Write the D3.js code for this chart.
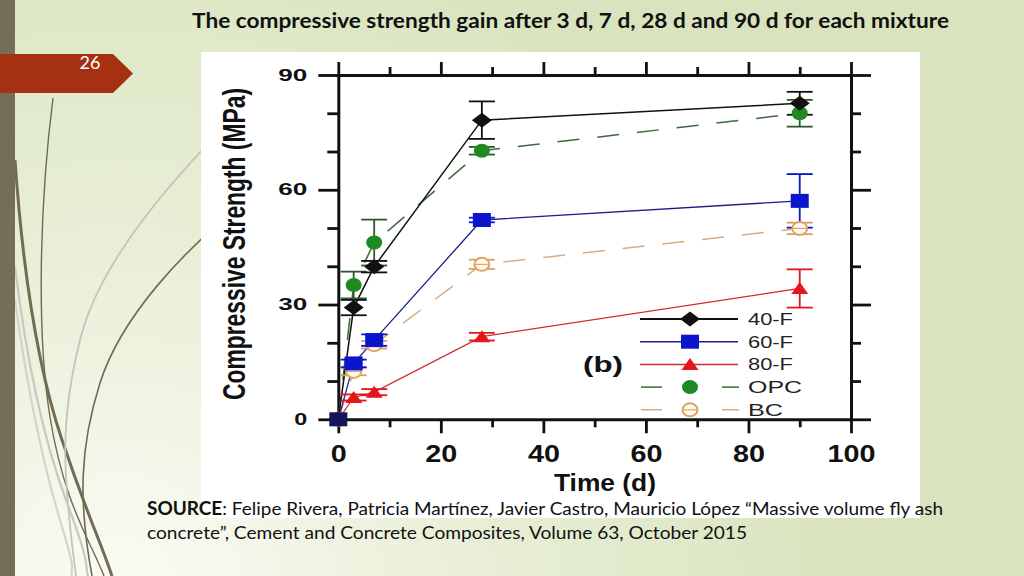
<!DOCTYPE html>
<html><head><meta charset="utf-8">
<script src="https://cdn.jsdelivr.net/npm/d3@7"></script>
<style>html,body{margin:0;padding:0;overflow:hidden;background:#fff}</style>
</head><body><svg id="s" width="1024" height="576"></svg>
<script>
// ---------- data ----------
const days = [0, 3, 7, 28, 90];
const seriesNames = ["OPC", "BC", "80-F", "40-F", "60-F"];
const f40 = [0, 29.2, 39.9, 78.2, 82.6];
const f40Err = [0, 2, 1.5, 4.9, 3];
const f60 = [0, 14.6, 20.7, 52.1, 57.1];
const f60Err = [0, 1, 1.5, 0.6, 7];
const f80 = [0, 5.7, 7.1, 21.6, 34.2];
const f80Err = [0, 0.8, 0.8, 1, 5];
const opc = [0, 35.1, 46.2, 70.2, 80.0];
const opcErr = [0, 3.5, 6, 1, 3.5];
const bc = [0, 12.5, 19.5, 40.5, 49.9];
const bcErr = [0, 1, 1, 1.2, 1.5];
const legendLabels = ["40-F", "60-F", "80-F", "OPC", "BC"];
const xMajorTicks = [0, 20, 40, 60, 80, 100];
const xMinorTicks = [10, 30, 50, 70, 90];
const yMajorTicks = [0, 30, 60, 90];
const yMinorTicks = [10, 20, 40, 50, 70, 80];

const titleText = "The compressive strength gain after 3 d, 7 d, 28 d and 90 d for each mixture";
const slideNo = "26";

// ---------- styles ----------
const style = {
  "40-F": {color: "#111111", line: "#111111", width: 1.5, dash: null, marker: "diamond"},
  "60-F": {color: "#0b16cc", line: "#1e1e8a", width: 1.3, dash: null, marker: "square"},
  "80-F": {color: "#e3161b", line: "#d42a2a", width: 1.2, dash: null, marker: "triangle"},
  "OPC":  {color: "#1f8a24", line: "#3d6a3d", width: 1.5, dash: "22,18", marker: "circle"},
  "BC":   {color: "#e0a463", line: "#d9ab7e", width: 1.5, dash: "22,18", marker: "open"}
};
const valuesOf = {"40-F": [f40, f40Err], "60-F": [f60, f60Err], "80-F": [f80, f80Err], "OPC": [opc, opcErr], "BC": [bc, bcErr]};

const svg = d3.select("#s");
const defs = svg.append("defs");
const rg = defs.append("radialGradient").attr("id", "bg").attr("gradientUnits", "userSpaceOnUse")
  .attr("cx", 120).attr("cy", 600).attr("r", 720);
rg.append("stop").attr("offset", 0).attr("stop-color", "#fbfcf5");
rg.append("stop").attr("offset", 0.45).attr("stop-color", "#eaf0d9");
rg.append("stop").attr("offset", 1).attr("stop-color", "#d9e4be");
svg.append("rect").attr("width", 1024).attr("height", 576).attr("fill", "url(#bg)");

// decorative curves
const curves = [
  {d: "M53,98 C40,200 36,330 50,417 S90,540 104,576", c: "#6f6a52", w: 1.4},
  {d: "M15,160 C22,260 35,360 62,440 S100,540 112,576", c: "#736c55", w: 3},
  {d: "M260,90 C170,180 100,260 80,340 S62,470 76,576", c: "#c4c4bb", w: 1.8},
  {d: "M260,190 C180,250 120,320 100,383 S78,500 92,576", c: "#6e6a55", w: 1.6},
  {d: "M15,267 C24,340 40,430 66,500 S84,560 88,576", c: "#c9c9c0", w: 2.2},
  {d: "M15,300 C26,380 42,460 60,520 S70,560 72,576", c: "#d2d2ca", w: 2}
];
svg.selectAll("path.deco").data(curves).join("path").attr("class", "deco")
  .attr("d", d => d.d).attr("fill", "none").attr("stroke", d => d.c).attr("stroke-width", d => d.w);

// left stripe
svg.append("rect").attr("x", 0).attr("y", 0).attr("width", 15).attr("height", 576).attr("fill", "#756d56");
// slide number tab
svg.append("path").attr("d", "M0,54 L113,54 L133,73.5 L113,93 L0,93 Z").attr("fill", "#a63112");
svg.append("text").attr("x", 90).attr("y", 69).attr("text-anchor", "middle")
  .attr("font-family", "Lato, 'Open Sans', sans-serif").attr("font-size", 18).attr("fill", "#fff").text(slideNo);

// title
svg.append("text").attr("x", 192).attr("y", 27.5)
  .attr("font-family", "Lato, 'Open Sans', sans-serif").attr("font-weight", "bold").attr("font-size", 20)
  .attr("fill", "#111").attr("textLength", 757).attr("lengthAdjust", "spacingAndGlyphs").text(titleText);

// white image box
svg.append("rect").attr("x", 201).attr("y", 52).attr("width", 719).attr("height", 466).attr("fill", "#ffffff");

// source text
const src1 = svg.append("text").attr("x", 147).attr("y", 515)
  .attr("font-family", "Lato, 'Open Sans', sans-serif").attr("font-size", 18).attr("fill", "#111")
  .attr("textLength", 796).attr("lengthAdjust", "spacingAndGlyphs");
src1.append("tspan").attr("font-weight", "bold").text("SOURCE");
src1.append("tspan").text(": Felipe Rivera, Patricia Martínez, Javier Castro, Mauricio López “Massive volume fly ash");
svg.append("text").attr("x", 147).attr("y", 539)
  .attr("font-family", "Lato, 'Open Sans', sans-serif").attr("font-size", 18).attr("fill", "#111")
  .attr("textLength", 600).attr("lengthAdjust", "spacingAndGlyphs")
  .text("concrete”, Cement and Concrete Composites, Volume 63, October 2015");

// ---------- chart ----------
const x = d3.scaleLinear().domain([0, 100]).range([338.3, 851]);
const y = d3.scaleLinear().domain([0, 90]).range([419.3, 75]);
const chart = svg.append("g");
const AX = "'Liberation Sans', Arial, sans-serif";

function styleAxis(g, keepDomain) {
  g.attr("font-family", AX);
  g.selectAll("line").attr("stroke", "#111").attr("stroke-width", 2.8);
  if (keepDomain) g.select(".domain").attr("stroke", "#111").attr("stroke-width", 3).attr("stroke-linecap", "square");
  else g.select(".domain").remove();
}
// bottom
const gb = chart.append("g").attr("transform", `translate(0,${y(0)})`)
  .call(d3.axisBottom(x).tickValues(xMajorTicks).tickSize(14).tickPadding(12).tickSizeOuter(0));
styleAxis(gb, true);
gb.selectAll("text").attr("font-size", 24).attr("font-weight", "bold").attr("fill", "#111")
  .attr("textLength", d => String(d).length * 16).attr("lengthAdjust", "spacingAndGlyphs");
styleAxis(chart.append("g").attr("transform", `translate(0,${y(0)})`)
  .call(d3.axisBottom(x).tickValues(xMinorTicks).tickSize(8).tickFormat("")), false);
// top
styleAxis(chart.append("g").attr("transform", `translate(0,${y(90)})`)
  .call(d3.axisTop(x).tickValues(xMajorTicks).tickSize(13).tickSizeOuter(0).tickFormat("")), true);
styleAxis(chart.append("g").attr("transform", `translate(0,${y(90)})`)
  .call(d3.axisTop(x).tickValues(xMinorTicks).tickSize(8).tickFormat("")), false);
// left
const gl = chart.append("g").attr("transform", `translate(${x(0)},0)`)
  .call(d3.axisLeft(y).tickValues(yMajorTicks).tickSize(20).tickPadding(11).tickSizeOuter(0));
styleAxis(gl, true);
gl.selectAll("text").attr("font-size", 16).attr("font-weight", "bold").attr("fill", "#111")
  .attr("textLength", d => String(d).length === 1 ? 13 : 29).attr("lengthAdjust", "spacingAndGlyphs");
styleAxis(chart.append("g").attr("transform", `translate(${x(0)},0)`)
  .call(d3.axisLeft(y).tickValues(yMinorTicks).tickSize(11).tickFormat("")), false);
// right
styleAxis(chart.append("g").attr("transform", `translate(${x(100)},0)`)
  .call(d3.axisRight(y).tickValues(yMajorTicks).tickSize(20).tickSizeOuter(0).tickFormat("")), true);
styleAxis(chart.append("g").attr("transform", `translate(${x(100)},0)`)
  .call(d3.axisRight(y).tickValues(yMinorTicks).tickSize(10).tickFormat("")), false);

// axis titles
chart.append("text").attr("x", 605).attr("y", 491).attr("text-anchor", "middle")
  .attr("font-family", AX).attr("font-weight", "bold").attr("font-size", 24).attr("fill", "#111")
  .attr("textLength", 102).attr("lengthAdjust", "spacingAndGlyphs").text("Time (d)");
chart.append("text").attr("transform", "translate(245,244) scale(1.3,1) rotate(-90)")
  .attr("text-anchor", "middle").attr("font-family", AX).attr("font-weight", "bold").attr("font-size", 23.5)
  .attr("fill", "#111").attr("textLength", 312).attr("lengthAdjust", "spacingAndGlyphs")
  .text("Compressive Strength (MPa)");

// marker drawing
function marker(g, type, color, cx, cy) {
  if (type === "diamond") {
    g.append("path").attr("d", `M${cx - 10},${cy} L${cx},${cy - 7.5} L${cx + 10},${cy} L${cx},${cy + 7.5} Z`).attr("fill", color);
  } else if (type === "square") {
    g.append("rect").attr("x", cx - 9).attr("y", cy - 7).attr("width", 18).attr("height", 14).attr("fill", color);
  } else if (type === "triangle") {
    g.append("path").attr("d", `M${cx - 8.5},${cy + 5.5} L${cx},${cy - 6.5} L${cx + 8.5},${cy + 5.5} Z`).attr("fill", color);
  } else if (type === "circle") {
    g.append("ellipse").attr("cx", cx).attr("cy", cy).attr("rx", 8).attr("ry", 7).attr("fill", color);
  } else if (type === "open") {
    g.append("ellipse").attr("cx", cx).attr("cy", cy).attr("rx", 7.5).attr("ry", 6.5)
      .attr("fill", "#fff8f0").attr("stroke", color).attr("stroke-width", 2);
    g.append("line").attr("x1", cx - 7.5).attr("x2", cx + 7.5).attr("y1", cy).attr("y2", cy)
      .attr("stroke", color).attr("stroke-width", 1.2);
  }
}

const line = d3.line().x(d => x(d[0])).y(d => y(d[1]));
const gLines = chart.append("g"), gErr = chart.append("g"), gMk = chart.append("g");
seriesNames.forEach(name => {
  const st = style[name];
  const [vals, errs] = valuesOf[name];
  const pts = days.map((d, i) => [d, vals[i]]);
  gLines.append("path").attr("d", line(pts)).attr("fill", "none").attr("stroke", st.line)
    .attr("stroke-width", st.width).attr("stroke-dasharray", st.dash);
  days.forEach((d, i) => {
    if (errs[i] <= 0) return;
    const cx = x(d), y1 = y(vals[i] + errs[i]), y2 = y(vals[i] - errs[i]);
    const ec = name === "OPC" ? "#2c5a2c" : (name === "BC" ? "#d8a068" : st.color);
    gErr.append("line").attr("x1", cx).attr("x2", cx).attr("y1", y1).attr("y2", y2).attr("stroke", ec).attr("stroke-width", 1.8);
    [y1, y2].forEach(yy => gErr.append("line").attr("x1", cx - 13).attr("x2", cx + 13).attr("y1", yy).attr("y2", yy)
      .attr("stroke", ec).attr("stroke-width", 1.8));
  });
  days.forEach((d, i) => marker(gMk, st.marker, name === "60-F" && d === 0 ? "#15155e" : st.color, x(d), y(vals[i])));
});

// legend
const lg = chart.append("g");
legendLabels.forEach((name, i) => {
  const st = style[name];
  const cy = 319 + i * 22.7;
  if (st.dash) {
    lg.append("line").attr("x1", 641).attr("x2", 662).attr("y1", cy).attr("y2", cy).attr("stroke", st.line).attr("stroke-width", 1.5);
    lg.append("line").attr("x1", 722).attr("x2", 739).attr("y1", cy).attr("y2", cy).attr("stroke", st.line).attr("stroke-width", 1.5);
  } else {
    lg.append("line").attr("x1", 640).attr("x2", 738).attr("y1", cy).attr("y2", cy).attr("stroke", st.line).attr("stroke-width", st.width + 0.3);
  }
  marker(lg, st.marker, st.color, 690, cy);
  lg.append("text").attr("x", 748).attr("y", cy + 6).attr("font-family", AX).attr("font-size", 16.5).attr("fill", "#222")
    .attr("textLength", name === "OPC" ? 54 : (name === "BC" ? 35 : 45)).attr("lengthAdjust", "spacingAndGlyphs").text(name);
});
chart.append("text").attr("x", 583).attr("y", 372).attr("font-family", AX).attr("font-weight", "bold")
  .attr("font-size", 22).attr("fill", "#111").attr("textLength", 40).attr("lengthAdjust", "spacingAndGlyphs").text("(b)");
</script></body></html>
